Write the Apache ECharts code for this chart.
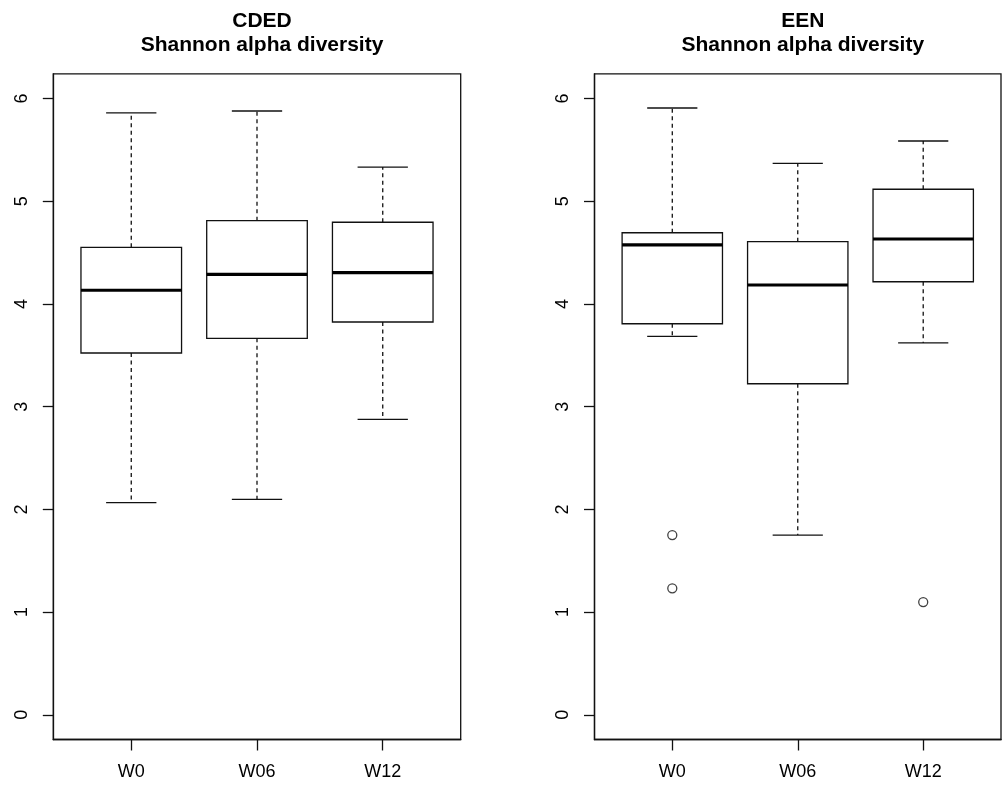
<!DOCTYPE html>
<html>
<head>
<meta charset="utf-8">
<script src="https://cdn.jsdelivr.net/npm/echarts@6/dist/echarts.min.js"></script>
<style>
html,body{margin:0;padding:0;background:#fff;}
#chart{width:1005px;height:787px;}
</style>
</head>
<body>
<div id="chart"></div>
<script>
// ---- data ----
const categories = ['W0', 'W06', 'W12'];
const yTicks = [0, 1, 2, 3, 4, 5, 6];

const cdedLow    = [2.065, 2.098, 2.877];
const cdedQ1     = [3.522, 3.665, 3.824];
const cdedMedian = [4.133, 4.288, 4.304];
const cdedQ3     = [4.551, 4.810, 4.795];
const cdedHigh   = [5.859, 5.878, 5.332];
const cdedOutliers = [];

const eenLow    = [3.685, 1.750, 3.620];
const eenQ1     = [3.807, 3.223, 4.216];
const eenMedian = [4.574, 4.184, 4.632];
const eenQ3     = [4.693, 4.606, 5.116];
const eenHigh   = [5.907, 5.369, 5.586];
// [category index (1-based), value]
const eenOutliers = [[1, 1.750], [1, 1.232], [3, 1.098]];

const panelTitles = ['CDED\nShannon alpha diversity', 'EEN\nShannon alpha diversity'];

// ---- helpers ----
function boxData(low, q1, med, q3, high) {
  return categories.map((c, i) => [i + 1, low[i], q1[i], med[i], q3[i], high[i]]);
}

const INK = '#111';
const FONT = 'Liberation Sans, Arial, Helvetica, sans-serif';

function renderBox(params, api) {
  const x = api.value(0);
  const lo = api.coord([x, api.value(1)]);
  const q1 = api.coord([x, api.value(2)]);
  const md = api.coord([x, api.value(3)]);
  const q3 = api.coord([x, api.value(4)]);
  const hi = api.coord([x, api.value(5)]);
  const bw = api.size([0.8, 0])[0];
  const cw = api.size([0.4, 0])[0];
  const cx = lo[0];
  const solid = { stroke: INK, lineWidth: 1.3, fill: null };
  const dashed = { stroke: INK, lineWidth: 1.3, lineDash: [4, 3.5], fill: null };
  return {
    type: 'group',
    children: [
      { type: 'line', shape: { x1: cx, y1: q3[1], x2: cx, y2: hi[1] }, style: dashed },
      { type: 'line', shape: { x1: cx, y1: q1[1], x2: cx, y2: lo[1] }, style: dashed },
      { type: 'line', shape: { x1: cx - cw / 2, y1: hi[1], x2: cx + cw / 2, y2: hi[1] }, style: solid },
      { type: 'line', shape: { x1: cx - cw / 2, y1: lo[1], x2: cx + cw / 2, y2: lo[1] }, style: solid },
      { type: 'rect', shape: { x: cx - bw / 2, y: q3[1], width: bw, height: q1[1] - q3[1] },
        style: { stroke: INK, lineWidth: 1.3, fill: '#fff' } },
      { type: 'line', shape: { x1: cx - bw / 2, y1: md[1], x2: cx + bw / 2, y2: md[1] },
        style: { stroke: '#000', lineWidth: 3.2 } }
    ]
  };
}

const gridTop = 73.8, gridHeight = 665.7;
const grids = [
  { left: 53.3, top: gridTop, width: 407.4, height: gridHeight },
  { left: 594.5, top: gridTop, width: 406.5, height: gridHeight }
];

function xAxisFor(idx) {
  return {
    type: 'value', gridIndex: idx, min: 0.38, max: 3.62,
    axisLine: { show: true, onZero: false, lineStyle: { color: INK, width: 1.3 } },
    axisTick: { show: true, length: 11, customValues: [1, 2, 3], lineStyle: { color: INK, width: 1.3 } },
    axisLabel: { show: true, customValues: [1, 2, 3], margin: 24, fontSize: 18, color: '#000',
      fontFamily: FONT, formatter: v => categories[Math.round(v) - 1] || '' },
    splitLine: { show: false }
  };
}
function yAxisFor(idx) {
  return {
    type: 'value', gridIndex: idx, min: -0.24, max: 6.24,
    axisLine: { show: true, onZero: false, lineStyle: { color: INK, width: 1.3 } },
    axisTick: { show: true, length: 10.5, customValues: yTicks, lineStyle: { color: INK, width: 1.3 } },
    axisLabel: { show: true, customValues: yTicks, rotate: 90, margin: 22, fontSize: 18, color: '#000',
      fontFamily: FONT },
    splitLine: { show: false }
  };
}

const option = {
  backgroundColor: '#fff',
  animation: false,
  title: panelTitles.map((t, i) => ({
    text: t,
    left: grids[i].left + grids[i].width / 2,
    top: 4,
    textAlign: 'center',
    textStyle: { fontSize: 21, fontWeight: 'bold', color: '#000', fontFamily: FONT, lineHeight: 24 }
  })),
  grid: grids.map(g => Object.assign({ show: true, borderColor: INK, borderWidth: 1.3, backgroundColor: 'transparent' }, g)),
  xAxis: [xAxisFor(0), xAxisFor(1)],
  yAxis: [yAxisFor(0), yAxisFor(1)],
  series: [
    { type: 'custom', xAxisIndex: 0, yAxisIndex: 0, renderItem: renderBox,
      encode: { x: 0, y: [1, 2, 3, 4, 5] },
      data: boxData(cdedLow, cdedQ1, cdedMedian, cdedQ3, cdedHigh) },
    { type: 'scatter', xAxisIndex: 0, yAxisIndex: 0, data: cdedOutliers, symbol: 'circle', symbolSize: 9,
      itemStyle: { color: '#fff', borderColor: INK, borderWidth: 1.3 } },
    { type: 'custom', xAxisIndex: 1, yAxisIndex: 1, renderItem: renderBox,
      encode: { x: 0, y: [1, 2, 3, 4, 5] },
      data: boxData(eenLow, eenQ1, eenMedian, eenQ3, eenHigh) },
    { type: 'scatter', xAxisIndex: 1, yAxisIndex: 1, data: eenOutliers, symbol: 'circle', symbolSize: 9,
      itemStyle: { color: '#fff', borderColor: INK, borderWidth: 1.3 } }
  ]
};

const chart = echarts.init(document.getElementById('chart'), null, { renderer: 'canvas' });
chart.setOption(option);
</script>
</body>
</html>
